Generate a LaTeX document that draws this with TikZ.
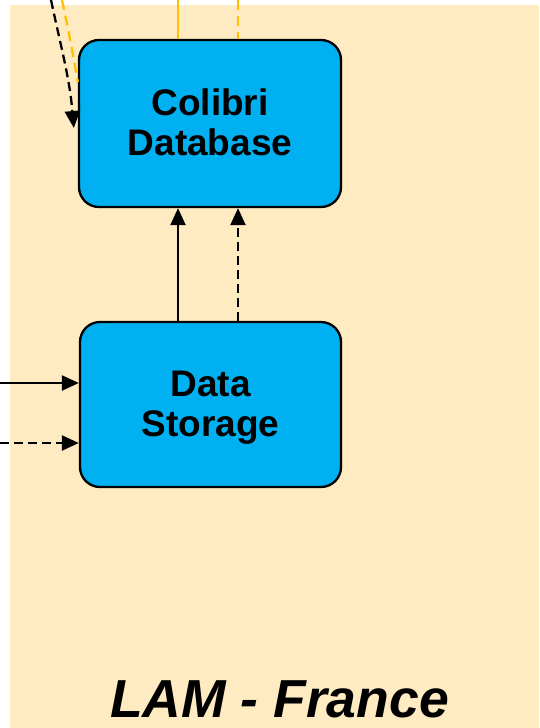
\documentclass[tikz,border=0pt]{standalone}
\usepackage{fontspec}
\setmainfont{Liberation Sans}
\usetikzlibrary{arrows.meta}

\begin{document}
\begin{tikzpicture}[x=1pt,y=-1pt,
    box/.style={draw=black, line width=2.3pt, fill=boxblue, rounded corners=20pt,
        align=center, font=\bfseries\fontsize{37}{40}\selectfont},
    flow/.style={line width=2.3pt, -{Triangle[length=17pt,width=15pt]}},
    dashflow/.style={flow, dash pattern=on 9pt off 5pt},
    feed/.style={line width=2.3pt, draw=feedyellow},
    dashfeed/.style={feed, dash pattern=on 10pt off 6pt}]

    \definecolor{boxblue}{RGB}{0,176,240}
    \definecolor{bgcream}{RGB}{255,235,193}
    \definecolor{feedyellow}{RGB}{255,192,0}

    % Draw the page and the site background
    \useasboundingbox (0,0) rectangle (539,728);
    \fill[bgcream] (10,5) rectangle (539,728);

    % Draw the incoming lines at the top (they continue off the picture)
    \coordinate (inblack) at (51,0);
    \coordinate (inyellow) at (62,0);
    \coordinate (topsolid) at (178,0);
    \coordinate (topdashed) at (238,0);

    % Draw the two boxes
    \node[box, minimum width=262pt, minimum height=167pt] (colibri) at (210,123.5)
        {\rule{0pt}{35pt}Colibri\\Database\strut};
    \node[box, minimum width=261pt, minimum height=165pt] (storage) at (210.5,404.5)
        {\rule{0pt}{36pt}Data\\Storage\strut};

    % Draw the yellow feeds into the database
    \draw[feed] (topsolid) -- ([xshift=-32pt]colibri.north);
    \draw[dashfeed] (topdashed) -- ([xshift=28pt]colibri.north);
    \draw[dashfeed] (inyellow) to[out=-78,in=100] ([yshift=41.5pt]colibri.west);
    \draw[dashflow] (inblack) to[out=-78,in=95] ([xshift=-4pt,yshift=-4.5pt]colibri.west);

    % Draw the links from storage to database
    \draw[flow] ([xshift=-32.5pt]storage.north) -- ([xshift=-32pt]colibri.south);
    \draw[dashflow] ([xshift=27.5pt]storage.north) -- ([xshift=28pt]colibri.south);

    % Draw the inputs to the storage
    \coordinate (insolid) at (0,383);
    \coordinate (indashed) at (0,443);
    \draw[flow] (insolid) -- ([yshift=21.5pt]storage.west);
    \draw[dashflow] (indashed) -- ([yshift=-38.5pt]storage.west);

    % Draw the site name
    \node[anchor=base, font=\bfseries\itshape\fontsize{53.5}{60}\selectfont] (site)
        at (279.5,717) {LAM - France};

\end{tikzpicture}
\end{document}
